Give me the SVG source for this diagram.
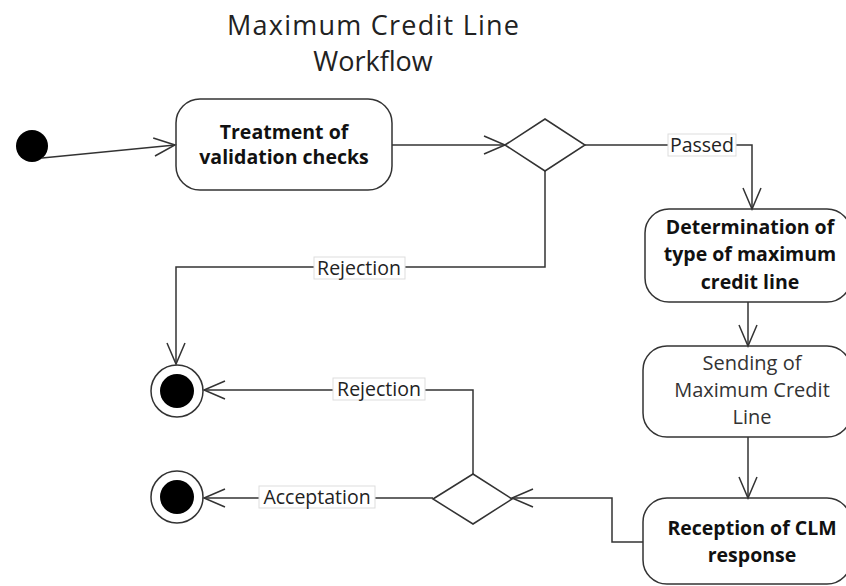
<svg xmlns="http://www.w3.org/2000/svg" width="846" height="586" viewBox="0 0 846 586">
<style>
.title{font-family:"Open Sans","DejaVu Sans",sans-serif;font-size:27px;fill:#222;text-anchor:middle}
.node{fill:#fff;stroke:#333;stroke-width:1.5}
.bt{font-family:"Open Sans","DejaVu Sans",sans-serif;font-size:19.5px;font-weight:bold;fill:#111;text-anchor:middle}
.nt{font-family:"Open Sans","DejaVu Sans",sans-serif;font-size:20px;fill:#333;text-anchor:middle}
.edge{fill:none;stroke:#333;stroke-width:1.5}
.lblbox{fill:#fff;stroke:#ddd;stroke-width:1}
.lbl{font-family:"Open Sans","DejaVu Sans",sans-serif;font-size:19.5px;fill:#222;text-anchor:middle}
</style>
<defs>
<marker id="arr" markerUnits="userSpaceOnUse" markerWidth="26" markerHeight="22" refX="22" refY="10" orient="auto">
<path d="M1,1 L22,10 L1,19" fill="none" stroke="#333" stroke-width="1.5"/>
</marker>
</defs>
<rect width="846" height="586" fill="#fff"/>
<g id="title">
<text class="title" x="373" y="35" textLength="292" lengthAdjust="spacing">Maximum Credit Line</text>
<text class="title" x="373" y="71">Workflow</text>
</g>
<g id="start"><circle cx="32" cy="146" r="16" fill="#000"/></g>
<g id="treatment">
<rect class="node" x="176" y="99" width="216" height="91" rx="24"/>
<text class="bt" x="284" y="139">Treatment of</text>
<text class="bt" x="284" y="164">validation checks</text>
</g>
<g id="decision1"><polygon class="node" points="505,145 545,119 585,145 545,171"/></g>
<g id="determination">
<rect class="node" x="645" y="209" width="206" height="93" rx="24"/>
<text class="bt" x="750" y="234">Determination of</text>
<text class="bt" x="750" y="261">type of maximum</text>
<text class="bt" x="750" y="289">credit line</text>
</g>
<g id="sending">
<rect class="node" x="643" y="346" width="208" height="91" rx="24"/>
<text class="nt" x="752" y="370">Sending of</text>
<text class="nt" x="752" y="397">Maximum Credit</text>
<text class="nt" x="752" y="424">Line</text>
</g>
<g id="reception">
<rect class="node" x="643" y="498" width="208" height="86" rx="24"/>
<text class="bt" x="752" y="535">Reception of CLM</text>
<text class="bt" x="752" y="562">response</text>
</g>
<g id="decision2"><polygon class="node" points="433,499 473,474 512,499 473,524"/></g>
<g id="end1"><circle cx="177" cy="391" r="26" fill="#fff" stroke="#333" stroke-width="1.5"/><circle cx="177" cy="391" r="17" fill="#000"/></g>
<g id="end2"><circle cx="177" cy="497" r="26" fill="#fff" stroke="#333" stroke-width="1.5"/><circle cx="177" cy="497" r="17" fill="#000"/></g>
<g id="connectors">
<path class="edge" d="M42,158 L175,145" marker-end="url(#arr)"/>
<path class="edge" d="M392,145 L505,145" marker-end="url(#arr)"/>
<path class="edge" d="M585,145 L752,145 L752,209" marker-end="url(#arr)"/>
<path class="edge" d="M545,171 L545,267 L176,267 L176,364" marker-end="url(#arr)"/>
<path class="edge" d="M748,302 L748,346" marker-end="url(#arr)"/>
<path class="edge" d="M748,437 L748,498" marker-end="url(#arr)"/>
<path class="edge" d="M643,542 L612,542 L612,498 L512,498" marker-end="url(#arr)"/>
<path class="edge" d="M473,474 L473,390 L204,390" marker-end="url(#arr)"/>
<path class="edge" d="M433,498 L204,498" marker-end="url(#arr)"/>
<rect class="lblbox" x="668" y="134" width="68" height="22"/>
<text class="lbl" x="702" y="152">Passed</text>
<rect class="lblbox" x="314" y="257" width="91" height="22"/>
<text class="lbl" x="359" y="275">Rejection</text>
<rect class="lblbox" x="333" y="378" width="92" height="22"/>
<text class="lbl" x="379" y="396">Rejection</text>
<rect class="lblbox" x="259" y="486" width="116" height="22"/>
<text class="lbl" x="317" y="504">Acceptation</text>
</g>
</svg>
